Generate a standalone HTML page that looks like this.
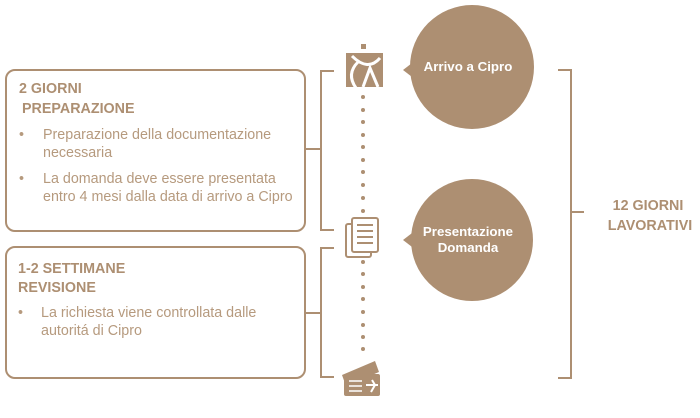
<!DOCTYPE html>
<html><head><meta charset="utf-8"><style>
html,body{margin:0;padding:0;background:#fff;}
body{width:700px;height:418px;position:relative;overflow:hidden;font-family:"Liberation Sans",sans-serif;}
svg{position:absolute;left:0;top:0;}
</style></head><body>
<svg width="700" height="418" viewBox="0 0 700 418">
<g fill="none" stroke="#ad8f72" stroke-width="2">
<rect x="6" y="70" width="299" height="161" rx="9"/>
<rect x="6" y="247" width="299" height="131" rx="9"/>
<path d="M305 149 H321 M334 71 H321 V230 H334"/>
<path d="M305 313 H321 M334 248 H321 V377 H334"/>
<path d="M558 70 H571 V378 H558 M571 212 H584"/>
</g>
<g fill="#ad8f72">
<circle cx="472" cy="67" r="62"/>
<path d="M403 70 L416 60 L416 80 Z"/>
<circle cx="472" cy="240" r="61"/>
<path d="M403 240 L416 230 L416 250 Z"/>
<circle cx="363" cy="97" r="2"/><circle cx="363" cy="110" r="2"/><circle cx="363" cy="122" r="2"/><circle cx="363" cy="135" r="2"/><circle cx="363" cy="147" r="2"/><circle cx="363" cy="160" r="2"/><circle cx="363" cy="172" r="2"/><circle cx="363" cy="185" r="2"/><circle cx="363" cy="198" r="2"/><circle cx="363" cy="211" r="2"/>
<circle cx="363" cy="262" r="2"/><circle cx="363" cy="274" r="2"/><circle cx="363" cy="287" r="2"/><circle cx="363" cy="299" r="2"/><circle cx="363" cy="312" r="2"/><circle cx="363" cy="325" r="2"/><circle cx="363" cy="337" r="2"/><circle cx="363" cy="349" r="2"/>
<rect x="346" y="53" width="37" height="34"/>
<rect x="361" y="44" width="5" height="5"/>
</g>
<g fill="none" stroke="#fff" stroke-width="3">
<path d="M352 56 Q368 72 380 58"/>
<path d="M358 62 Q346 74 356 88"/>
<path d="M363 87 L370 68 L378 87"/>
</g>
<g fill="#fff" stroke="#ad8f72" stroke-width="2">
<rect x="346" y="224" width="25" height="33" rx="2"/>
<rect x="352" y="218" width="26" height="34" rx="2"/>
</g>
<g stroke="#ad8f72" stroke-width="2">
<path d="M357 225 H373 M357 231 H373 M357 237 H373 M357 243 H373"/>
</g>
<g fill="#ad8f72">
<path d="M342 375 L375 361 L379 372 L346 386 Z"/>
<rect x="344" y="374" width="36" height="22" rx="2"/>
</g>
<g stroke="#fff" stroke-width="1.5"><path d="M349 381 H362 M349 386 H362 M349 391 H362"/></g>
<path d="M366 385 L378 385 M372 380 L375 385 L371 392" stroke="#fff" stroke-width="2" fill="none"/>
<g font-family="Liberation Sans, sans-serif" fill="#fff" font-weight="bold" font-size="13.3" text-anchor="middle">
<text x="468" y="71">Arrivo a Cipro</text>
<text x="468" y="236">Presentazione</text>
<text x="468" y="252">Domanda</text>
</g>
<g font-family="Liberation Sans, sans-serif" fill="#ad8f72" font-weight="bold" font-size="14.3" text-anchor="middle">
<text x="648" y="210">12 GIORNI</text>
<text x="650" y="230">LAVORATIVI</text>
</g>
<g font-family="Liberation Sans, sans-serif" fill="#ad8f72" font-weight="bold" font-size="14.3">
<text x="19" y="93">2 GIORNI</text>
<text x="22" y="113">PREPARAZIONE</text>
<text x="18" y="273">1-2 SETTIMANE</text>
<text x="18" y="292">REVISIONE</text>
</g>
<g font-family="Liberation Sans, sans-serif" fill="#b69a7e" font-size="14.3">
<text x="19" y="139">•</text><text x="43" y="139">Preparazione della documentazione</text>
<text x="43" y="157">necessaria</text>
<text x="19" y="183">•</text><text x="43" y="183">La domanda deve essere presentata</text>
<text x="43" y="201">entro 4 mesi dalla data di arrivo a Cipro</text>
<text x="18" y="317">•</text><text x="41" y="317">La richiesta viene controllata dalle</text>
<text x="41" y="335">autoritá di Cipro</text>
</g>
</svg>
</body></html>
